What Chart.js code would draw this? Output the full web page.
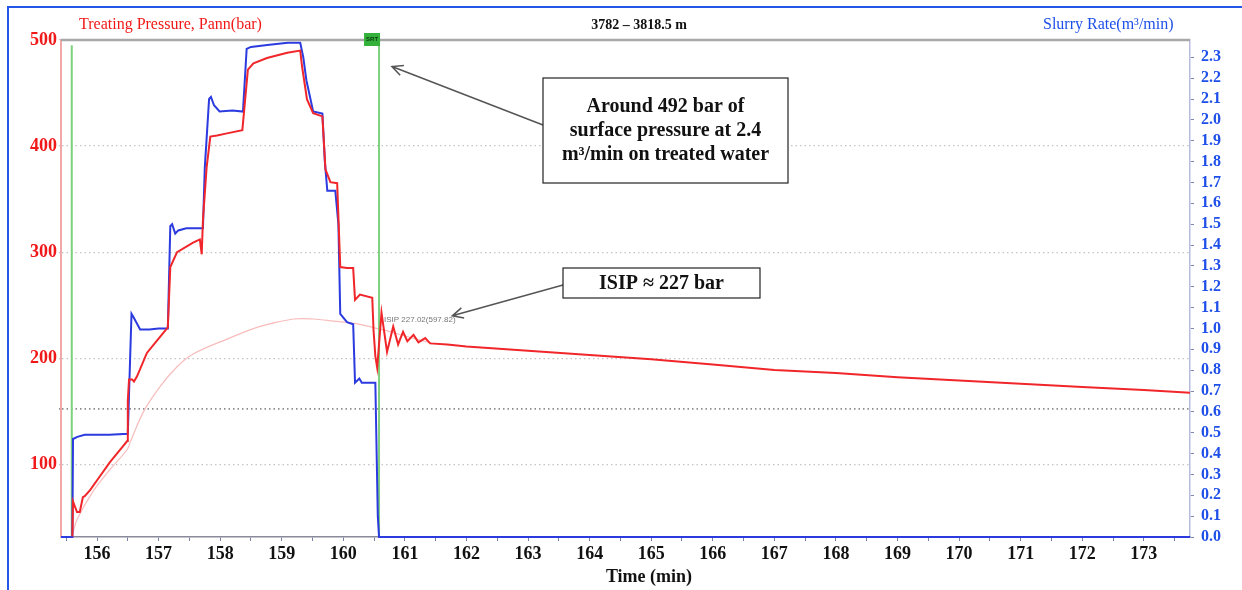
<!DOCTYPE html>
<html>
<head>
<meta charset="utf-8">
<script src="https://cdn.jsdelivr.net/npm/chart.js@4.4.1/dist/chart.umd.min.js"></script>
<style>
  html, body { margin: 0; padding: 0; background: #fff; }
  #wrap { width: 1242px; height: 590px; }
</style>
</head>
<body>
<div id="wrap"><canvas id="chart" width="1242" height="590"></canvas></div>
<script>
// slurry rate (m3/min)
const rateTime = [155.415, 155.60, 155.61, 155.68, 155.80, 156.20, 156.50, 156.56, 156.60, 156.70, 156.85, 157.00, 157.15,
  157.19, 157.22, 157.27, 157.32, 157.45, 157.72, 157.75, 157.82, 157.85, 157.90, 157.99, 158.20, 158.37,
  158.43, 158.50, 158.80, 159.10, 159.30, 159.35, 159.40, 159.51, 159.66, 159.70, 159.74, 159.87, 159.92,
  159.95, 160.06, 160.16, 160.19, 160.26, 160.30, 160.52, 160.56, 160.58, 173.75];
const rateVals = [0, 0, 0.47, 0.48, 0.49, 0.49, 0.495, 1.07, 1.05, 0.995, 0.995, 1.0, 1.0,
  1.49, 1.50, 1.455, 1.47, 1.48, 1.48, 1.77, 2.10, 2.11, 2.07, 2.04, 2.045, 2.04,
  2.34, 2.35, 2.36, 2.37, 2.37, 2.30, 2.19, 2.04, 2.03, 1.80, 1.66, 1.66, 1.50,
  1.07, 1.03, 1.02, 0.74, 0.76, 0.74, 0.74, 0.10, 0, 0];

// treating pressure (bar), red trace
const pressTime = [155.60, 155.61, 155.675, 155.72, 155.77, 155.80, 155.89, 156.05, 156.21, 156.42, 156.49, 156.50, 156.52,
  156.57, 156.60, 156.65, 156.81, 157.02, 157.15, 157.19, 157.30, 157.56, 157.67, 157.70, 157.72, 157.78,
  157.84, 157.95, 158.11, 158.36, 158.45, 158.54, 158.76, 159.09, 159.30, 159.33, 159.41, 159.51, 159.66,
  159.71, 159.79, 159.90, 159.95, 160.06, 160.16, 160.19, 160.27, 160.47, 160.49, 160.52, 160.55, 160.62,
  160.71, 160.81, 160.89, 160.97, 161.04, 161.14, 161.22, 161.33, 161.41, 161.69, 162, 163, 164, 165, 166,
  167, 168, 169, 170, 171, 172, 173, 173.75];
const pressVals = [32, 65, 55, 55, 69, 70, 76, 89, 102, 117, 122, 160, 180,
  180, 178, 183, 205, 220, 229, 286, 300, 309, 312, 298, 330, 380,
  409, 410, 412, 415, 472, 478, 483, 488, 490, 475, 444, 431, 428,
  378, 366, 365, 286, 285, 285, 255, 260, 257, 227, 202, 191, 243,
  206, 230, 213, 225, 216, 222, 215, 219, 214, 213, 211, 207, 203, 199, 194,
  189, 186, 182, 179, 176, 173, 170, 167.5];

// faint pink pressure trace
const pinkTime = [155.61, 155.675, 155.93, 156.21, 156.49, 156.54, 156.75, 157.02, 157.30, 157.56, 158.11, 158.65,
  159.19, 159.51, 159.84, 160.27, 160.55, 160.70, 161.00, 161.45];
const pinkVals = [36, 48, 74, 95, 114, 121, 149, 173, 192, 204, 218, 230,
  237, 237, 235, 232, 228, 226, 221, 214];

// green event markers
const markerTime = [155.59, 160.58];
const markerTop = [495, 500];

const xTicks = [155.5, 156, 156.5, 157, 157.5, 158, 158.5, 159, 159.5, 160, 160.5, 161, 161.5, 162, 162.5, 163, 163.5,
  164, 164.5, 165, 165.5, 166, 166.5, 167, 167.5, 168, 168.5, 169, 169.5, 170, 170.5, 171, 171.5, 172, 172.5, 173, 173.5];
const pressTicks = [100, 152.6, 200, 300, 400, 500];
const rateTicks = [0.0, 0.1, 0.2, 0.3, 0.4, 0.5, 0.6, 0.7, 0.8, 0.9, 1.0, 1.1, 1.2, 1.3, 1.4, 1.5, 1.6, 1.7, 1.8, 1.9, 2.0, 2.1, 2.2, 2.3];

const X_MIN = 155.415, X_MAX = 173.75;
const P_MIN = 31.5, P_MAX = 500;
const R_MIN = 0, R_MAX = 2.383;

const serif = '"Liberation Serif", "DejaVu Serif", serif';

const pts = (xs, ys) => xs.map((x, i) => ({ x: x, y: ys[i] }));

const datasets = [
  { label: 'Treating Pressure', data: pts(pressTime, pressVals), yAxisID: 'y',
    borderColor: '#f0262a', borderWidth: 2 },
  { label: 'Slurry Rate', data: pts(rateTime, rateVals), yAxisID: 'y2',
    borderColor: '#2b3be0', borderWidth: 2 },
];
markerTime.forEach((t, i) => {
  datasets.push({ label: 'marker' + i, data: [{ x: t, y: P_MIN }, { x: t, y: markerTop[i] }], yAxisID: 'y',
    borderColor: '#7dd07d', borderWidth: 2 });
});
datasets.push({ label: 'Pink', data: pts(pinkTime, pinkVals), yAxisID: 'y',
  borderColor: '#f8bcbc', borderWidth: 1.2, tension: 0.35 });

function arrow(ctx, x1, y1, x2, y2) {
  const a = Math.atan2(y2 - y1, x2 - x1);
  const L = 12, s = 0.45;
  ctx.beginPath();
  ctx.moveTo(x1, y1); ctx.lineTo(x2, y2);
  ctx.moveTo(x2 - L * Math.cos(a - s), y2 - L * Math.sin(a - s));
  ctx.lineTo(x2, y2);
  ctx.lineTo(x2 - L * Math.cos(a + s), y2 - L * Math.sin(a + s));
  ctx.stroke();
}

const decor = {
  id: 'decor',
  beforeDraw(chart) {
    const ctx = chart.ctx;
    ctx.save();
    ctx.fillStyle = '#fff';
    ctx.fillRect(0, 0, chart.width, chart.height);
    ctx.strokeStyle = '#2456e8';
    ctx.lineWidth = 2;
    ctx.beginPath();
    ctx.moveTo(8, chart.height); ctx.lineTo(8, 7); ctx.lineTo(chart.width, 7);
    ctx.stroke();
    ctx.restore();
  },
  afterDraw(chart) {
    const ctx = chart.ctx, a = chart.chartArea;
    const xs = chart.scales.x, ys = chart.scales.y;
    ctx.save();
    // top frame of the plot
    ctx.strokeStyle = '#a8a8a8';
    ctx.lineWidth = 2.5;
    ctx.beginPath(); ctx.moveTo(a.left, a.top); ctx.lineTo(a.right, a.top); ctx.stroke();

    // header texts
    ctx.textBaseline = 'middle';
    ctx.fillStyle = '#f01818';
    ctx.font = '16px ' + serif;
    ctx.textAlign = 'left';
    ctx.fillText('Treating Pressure, Pann(bar)', 79, 25);
    ctx.fillStyle = '#111';
    ctx.font = 'bold 14px ' + serif;
    ctx.textAlign = 'center';
    ctx.fillText('3782 \u2013 3818.5 m', 639, 25);
    ctx.fillStyle = '#1e4fe8';
    ctx.font = '16px ' + serif;
    ctx.textAlign = 'left';
    ctx.fillText('Slurry Rate(m\u00b3/min)', 1043, 25);
    ctx.fillStyle = '#111';
    ctx.font = 'bold 18px ' + serif;
    ctx.textAlign = 'center';
    ctx.fillText('Time (min)', 649, 577);

    // SRT flag on the second marker
    const mx = xs.getPixelForValue(markerTime[1]);
    ctx.fillStyle = '#33b13b';
    ctx.fillRect(mx - 15, 33, 16, 13);
    ctx.fillStyle = '#0a3a0a';
    ctx.font = 'bold 6px sans-serif';
    ctx.fillText('SRT', mx - 7, 39.5);

    // ISIP readout
    ctx.fillStyle = '#777';
    ctx.font = '8px sans-serif';
    ctx.textAlign = 'left';
    ctx.fillText('ISIP 227.02(597.82)', xs.getPixelForValue(160.66), ys.getPixelForValue(236));

    // annotation boxes
    ctx.strokeStyle = '#555';
    ctx.lineWidth = 1.5;
    arrow(ctx, 543, 125, xs.getPixelForValue(160.79), ys.getPixelForValue(475));
    arrow(ctx, 563, 285, xs.getPixelForValue(161.77), ys.getPixelForValue(240));

    ctx.fillStyle = '#fff';
    ctx.strokeStyle = '#222';
    ctx.lineWidth = 1.2;
    ctx.fillRect(543, 78, 245, 105); ctx.strokeRect(543, 78, 245, 105);
    ctx.fillRect(563, 268, 197, 30); ctx.strokeRect(563, 268, 197, 30);

    ctx.fillStyle = '#111';
    ctx.font = 'bold 20px ' + serif;
    ctx.textAlign = 'center';
    ctx.fillText('Around 492 bar of', 665.5, 107);
    ctx.fillText('surface pressure at 2.4', 665.5, 131);
    ctx.fillText('m\u00b3/min on treated water', 665.5, 155);
    ctx.fillText('ISIP \u2248 227 bar', 661.5, 284);
    ctx.restore();
  }
};

new Chart(document.getElementById('chart'), {
  type: 'line',
  data: { datasets: datasets },
  plugins: [decor],
  options: {
    responsive: false,
    animation: false,
    layout: { padding: { top: 40, left: 0, right: 0, bottom: 0 } },
    elements: { point: { radius: 0 }, line: { tension: 0 } },
    plugins: { legend: { display: false }, tooltip: { enabled: false } },
    datasets: { line: { clip: 4 } },
    scales: {
      x: {
        type: 'linear', min: X_MIN, max: X_MAX,
        afterBuildTicks: s => { s.ticks = xTicks.map(v => ({ value: v })); },
        afterFit: s => { s.height = 53; },
        ticks: {
          autoSkip: false, maxRotation: 0, padding: 3, color: '#111',
          font: { family: serif, size: 18, weight: 'bold' },
          callback: v => Number.isInteger(v) ? String(v) : ''
        },
        grid: { drawOnChartArea: false, tickLength: 4, color: '#7a7fa8' },
        border: { color: '#8a8a9a', width: 1.5 }
      },
      y: {
        position: 'left', min: P_MIN, max: P_MAX,
        afterBuildTicks: s => { s.ticks = pressTicks.map(v => ({ value: v })); },
        afterFit: s => { s.width = 61; },
        ticks: {
          autoSkip: false, padding: 2, color: '#f01818',
          font: { family: serif, size: 18, weight: 'bold' },
          callback: v => Number.isInteger(v) ? String(v) : ''
        },
        grid: {
          tickLength: 2,
          color: c => c.tick && !Number.isInteger(c.tick.value) ? '#8c8c8c' : '#c4c4c4',
          lineWidth: c => c.tick && !Number.isInteger(c.tick.value) ? 1.8 : 1.3
        },
        border: { color: '#f0a8a8', width: 2, dash: [1.5, 3] }
      },
      y2: {
        position: 'right', min: R_MIN, max: R_MAX,
        afterBuildTicks: s => { s.ticks = rateTicks.map(v => ({ value: v })); },
        afterFit: s => { s.width = 52; },
        ticks: {
          autoSkip: false, padding: 7, color: '#1e4fe8',
          font: { family: serif, size: 16, weight: 'bold' },
          callback: v => v.toFixed(1)
        },
        grid: { drawOnChartArea: false, tickLength: 4, color: '#8088b8' },
        border: { color: '#b8bde0', width: 1.5 }
      }
    }
  }
});
</script>
</body>
</html>
